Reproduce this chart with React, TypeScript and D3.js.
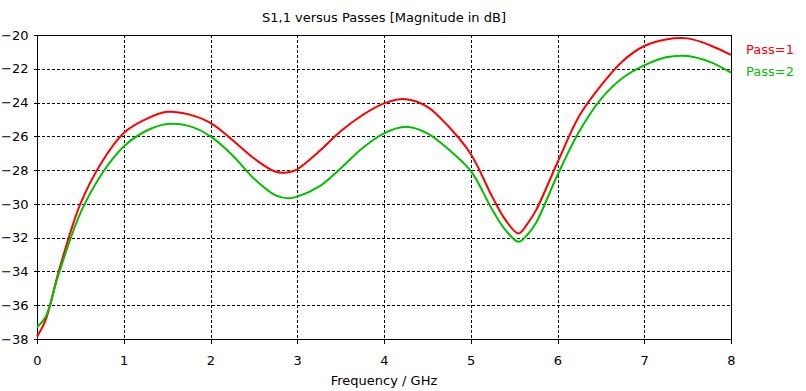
import React from 'react'
import * as d3 from 'd3'

const freqs = [0, 0.1, 0.25, 0.5, 0.75, 1, 1.25, 1.5, 1.75, 2, 2.25, 2.5, 2.75, 2.9, 3, 3.25, 3.5, 3.75, 4, 4.25, 4.5, 4.75, 5, 5.25, 5.4, 5.55, 5.65, 5.75, 6, 6.25, 6.5, 6.75, 7, 7.25, 7.5, 7.75, 8]
const pass1 = [-37.86, -36.87, -34.0, -30.0, -27.5, -25.8, -25.0, -24.55, -24.7, -25.2, -26.2, -27.3, -28.1, -28.12, -27.95, -26.9, -25.7, -24.75, -24.05, -23.8, -24.25, -25.45, -27.05, -29.6, -30.95, -31.75, -31.2, -30.4, -27.55, -24.8, -23.0, -21.55, -20.65, -20.26, -20.2, -20.59, -21.18]
const pass2 = [-37.31, -36.68, -34.15, -30.55, -28.2, -26.6, -25.7, -25.27, -25.38, -26.0, -27.1, -28.5, -29.5, -29.67, -29.57, -28.98, -27.9, -26.7, -25.82, -25.43, -25.82, -26.8, -28.05, -30.36, -31.55, -32.24, -31.84, -31.15, -28.29, -25.72, -23.8, -22.55, -21.8, -21.32, -21.24, -21.58, -22.23]
const xTicks = [0, 1, 2, 3, 4, 5, 6, 7, 8]
const yTicks = [-20, -22, -24, -26, -28, -30, -32, -34, -36, -38]
const seriesNames = ['Pass=1', 'Pass=2']
const seriesColors = ['#ff0000', '#00c000']

export default class App extends React.Component {
    svgRef = React.createRef<SVGSVGElement>()

    drawChart() {
        const width = 806, height = 391
        const padding = { top: 35, right: 75, bottom: 52, left: 37 }
        const font = 'Tahoma, "DejaVu Sans", sans-serif'

        const svg = d3.select(this.svgRef.current)
        svg.selectAll('*').remove()

        const x = d3.scaleLinear().domain([0, 8]).range([padding.left, width - padding.right])
        const y = d3.scaleLinear().domain([-38, -20]).range([height - padding.bottom, padding.top])

        // grid
        const grid = svg.append('g').attr('shape-rendering', 'crispEdges')
        grid.selectAll('.vg').data(xTicks.slice(1, -1)).enter().append('line')
            .attr('x1', d => Math.round(x(d)) + 0.5).attr('x2', d => Math.round(x(d)) + 0.5)
            .attr('y1', y(-20)).attr('y2', y(-38))
            .attr('stroke', '#000').attr('stroke-dasharray', '3,2')
        grid.selectAll('.hg').data(yTicks.slice(1, -1)).enter().append('line')
            .attr('y1', d => Math.round(y(d)) + 0.5).attr('y2', d => Math.round(y(d)) + 0.5)
            .attr('x1', x(0)).attr('x2', x(8))
            .attr('stroke', '#000').attr('stroke-dasharray', '3,2')

        // axes
        const xAxis = d3.axisBottom(x).tickValues(xTicks).tickSize(4).tickFormat(d3.format('d'))
        const yAxis = d3.axisLeft(y).tickValues(yTicks).tickSize(4).tickFormat(d3.format('d'))
        const gx = svg.append('g').attr('transform', `translate(0,${Math.round(y(-38)) + 0.5})`).call(xAxis)
        const gy = svg.append('g').attr('transform', `translate(${Math.round(x(0)) + 0.5},0)`).call(yAxis)
        for (const g of [gx, gy]) {
            g.select('.domain').remove()
            g.selectAll('line').attr('stroke', '#000').attr('shape-rendering', 'crispEdges')
            g.selectAll('text').attr('font-family', font).attr('font-size', 13).attr('fill', '#000')
        }
        gx.selectAll('text').attr('dy', '1.4em')
        gy.selectAll('text').attr('x', -9)

        // frame
        svg.append('rect')
            .attr('x', Math.round(x(0)) + 0.5).attr('y', Math.round(y(-20)) + 0.5)
            .attr('width', Math.round(x(8)) - Math.round(x(0))).attr('height', Math.round(y(-38)) - Math.round(y(-20)))
            .attr('fill', 'none').attr('stroke', '#000').attr('shape-rendering', 'crispEdges')

        // curves
        const line = d3.line<number>()
            .x((_, i) => x(freqs[i]))
            .y(d => y(d))
            .curve(d3.curveCatmullRom.alpha(0.5))
        ;[pass1, pass2].forEach((s, i) => {
            svg.append('path').datum(s).attr('d', line)
                .attr('fill', 'none').attr('stroke', seriesColors[i]).attr('stroke-width', 2)
        })

        // legend
        seriesNames.forEach((n, i) => {
            svg.append('text').attr('x', 746).attr('y', 54 + i * 22)
                .attr('font-family', font).attr('font-size', 13).attr('fill', seriesColors[i]).text(n)
        })

        // titles
        svg.append('text').attr('x', (x(0) + x(8)) / 2).attr('y', 22).attr('text-anchor', 'middle')
            .attr('font-family', font).attr('font-size', 13).text('S1,1 versus Passes [Magnitude in dB]')
        svg.append('text').attr('x', (x(0) + x(8)) / 2).attr('y', 385).attr('text-anchor', 'middle')
            .attr('font-family', font).attr('font-size', 13).text('Frequency / GHz')
    }

    componentDidMount() {
        this.drawChart()
    }

    render() {
        return <svg ref={this.svgRef} width={806} height={391}
            style={{ position: 'absolute', left: 0, top: 0, background: '#fff' }} />
    }
}
